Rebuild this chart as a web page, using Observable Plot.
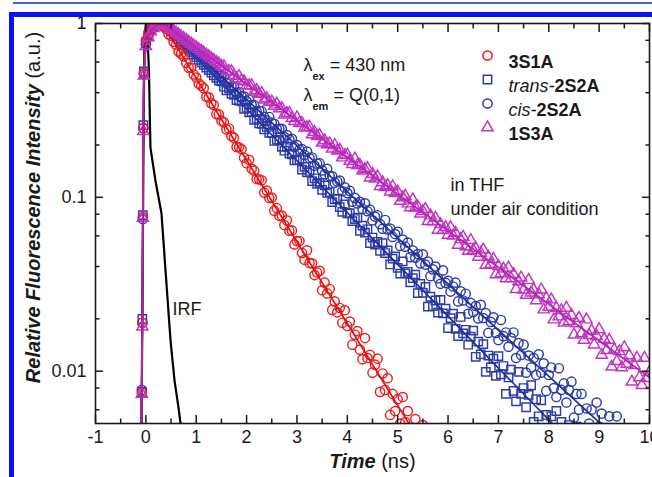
<!DOCTYPE html>
<html><head><meta charset="utf-8">
<script src="https://cdn.jsdelivr.net/npm/d3@7"></script>
<script src="https://cdn.jsdelivr.net/npm/@observablehq/plot@0.6"></script>
<style>
body{margin:0;background:#fff;}
#wrap{position:relative;width:652px;height:477px;overflow:hidden;background:#fff;}
#chart{position:absolute;left:0;top:0;}
.thin{position:absolute;left:13px;right:0;top:2px;height:2px;background:#3b6db3;}
.bframe{position:absolute;left:9px;top:12px;width:700px;height:520px;border-left:5px solid #0b12f2;border-top:5px solid #0b12f2;pointer-events:none;}
</style></head><body>
<div id="wrap"><div id="chart"></div><div class="thin"></div><div class="bframe"></div></div>
<script>
// ---- data ----
const time = [0,0.05,0.1,0.15,0.2,0.25,0.3,0.35,0.4,0.45,0.5,0.55,0.6,0.65,0.7,0.75,0.8,0.85,0.9,0.95,1,1.05,1.1,1.15,1.2,1.25,1.3,1.35,1.4,1.45,1.5,1.55,1.6,1.65,1.7,1.75,1.8,1.85,1.9,1.95,2,2.05,2.1,2.15,2.2,2.25,2.3,2.35,2.4,2.45,2.5,2.55,2.6,2.65,2.7,2.75,2.8,2.85,2.9,2.95,3,3.05,3.1,3.15,3.2,3.25,3.3,3.35,3.4,3.45,3.5,3.55,3.6,3.65,3.7,3.75,3.8,3.85,3.9,3.95,4,4.05,4.1,4.15,4.2,4.25,4.3,4.35,4.4,4.45,4.5,4.55,4.6,4.65,4.7,4.75,4.8,4.85,4.9,4.95,5,5.05,5.1,5.15,5.2,5.25,5.3,5.35,5.4,5.45,5.5,5.55,5.6,5.65,5.7,5.75,5.8,5.85,5.9,5.95,6,6.05,6.1,6.15,6.2,6.25,6.3,6.35,6.4,6.45,6.5,6.55,6.6,6.65,6.7,6.75,6.8,6.85,6.9,6.95,7,7.05,7.1,7.15,7.2,7.25,7.3,7.35,7.4,7.45,7.5,7.55,7.6,7.65,7.7,7.75,7.8,7.85,7.9,7.95,8,8.05,8.1,8.15,8.2,8.25,8.3,8.35,8.4,8.45,8.5,8.55,8.6,8.65,8.7,8.75,8.8,8.85,8.9,8.95,9,9.05,9.1,9.15,9.2,9.25,9.3,9.35,9.4,9.45,9.5,9.55,9.6,9.65,9.7,9.75,9.8,9.85,9.9,9.95,10];
const riseTime = [-0.09,-0.08,-0.07,-0.06,-0.05,-0.04];

const seriesNames = ["3S1A","trans-2S2A","cis-2S2A","1S3A"];

const rise3S1A = [0.0045,0.0075,0.019,0.077,0.25,0.52];
const val3S1A = [0.80,0.88,0.94,0.97,0.99,0.99,0.98,0.955,
0.933,0.867,0.849,0.784,0.755,0.689,0.671,0.647,0.594,0.557,0.556,0.509,
0.489,0.451,0.438,0.424,0.379,0.376,0.347,0.340,0.301,0.300,
0.276,0.270,0.246,0.249,0.225,0.220,0.195,0.194,0.189,0.169,
0.157,0.1645,0.146,0.1424,0.1277,0.1269,0.1254,0.1064,0.1094,0.0990,
0.0997,0.0838,0.0866,0.0783,0.0786,0.0693,0.0737,0.0643,0.0645,0.0536,
0.0560,0.0561,0.0479,0.0437,0.0496,0.0419,0.0417,0.0357,0.0370,0.0378,
0.0292,0.0323,0.0280,0.0297,0.0225,0.0252,0.0218,0.0231,0.0190,0.0224,
0.0182,0.0193,0.0142,0.0162,0.0170,0.0133,0.0117,0.0155,0.0119,0.0124,
0.0098,0.0109,0.0118,0.0076,0.0097,0.0078,0.0091,0.0056,0.0074,0.0059,
0.0069,0.0050,0.0071,0.0051,0.0059,0.0034,0.0047,0.0053,0.0037,0.0031,0.0049];

const riseTrans = [0.0046,0.0076,0.020,0.079,0.26,0.53];
const valTrans = [0.77,0.86,0.92,0.96,0.98,0.995,1.0,0.99,
0.966,0.933,0.902,0.871,0.842,0.814,0.786,0.760,0.734,0.709,0.686,0.662,
0.640,0.618,0.598,0.578,0.558,0.539,0.521,0.503,0.487,0.470,
0.464,0.433,0.413,0.424,0.394,0.388,0.363,0.360,0.357,0.323,
0.327,0.308,0.309,0.279,0.283,0.266,0.265,0.246,0.254,0.235,
0.234,0.211,0.214,0.213,0.1954,0.1855,0.1959,0.1786,0.1769,0.1630,
0.1641,0.1645,0.1444,0.1498,0.1392,0.1418,0.1239,0.1287,0.1196,0.1211,
0.1105,0.1172,0.1060,0.1073,0.0938,0.0975,0.0983,0.0878,0.0826,0.0911,
0.0809,0.0810,0.0730,0.0750,0.0764,0.0641,0.0688,0.0627,0.0655,0.0545,
0.0587,0.0535,0.0555,0.0492,0.0545,0.0478,0.0495,0.0411,0.0444,0.0457,
0.0393,0.0364,0.0428,0.0365,0.0373,0.0324,0.0343,0.0359,0.0281,0.0318,
0.0282,0.0305,0.0235,0.0268,0.0237,0.0255,0.0217,0.0257,0.0215,0.0229,
0.0177,0.0202,0.0214,0.0175,0.0159,0.0205,0.0165,0.0173,0.0142,0.0158,
0.0171,0.0121,0.0148,0.0125,0.0143,0.0099,0.0123,0.0105,0.0118,0.0094,
0.0122,0.0096,0.0107,0.0074,0.0092,0.0102,0.0077,0.0067,0.0099,0.0074,
0.0080,0.0062,0.0073,0.0083,0.0051,0.0069,0.0055,0.0068,0.0039,0.0056,
0.0046,0.0055,0.0040,0.0059,0.0043,0.0051,0.0030,0.0041,0.0049,0.0033,
0.0028,0.0048];

const riseCis = [0.0047,0.0078,0.019,0.075,0.25,0.51];
const valCis = [0.76,0.855,0.92,0.96,0.98,0.995,1.0,0.99,
0.970,0.941,0.912,0.885,0.859,0.833,0.808,0.784,0.760,0.737,0.715,0.694,
0.673,0.653,0.633,0.614,0.595,0.577,0.560,0.543,0.527,0.511,
0.499,0.495,0.454,0.458,0.435,0.435,0.399,0.402,0.381,0.381,
0.357,0.365,0.341,0.339,0.311,0.315,0.312,0.290,0.277,0.290,
0.268,0.265,0.247,0.248,0.248,0.222,0.228,0.215,0.217,0.195,
0.1998,0.1880,0.1893,0.1753,0.1833,0.1685,0.1696,0.1520,0.1561,0.1567,
0.1429,0.1357,0.1459,0.1324,0.1322,0.1213,0.1234,0.1248,0.1085,0.1141,
0.1058,0.1089,0.0943,0.0993,0.0922,0.0943,0.0858,0.0924,0.0832,0.0849,
0.0736,0.0775,0.0789,0.0701,0.0659,0.0741,0.0654,0.0661,0.0592,0.0615,
0.0633,0.0525,0.0572,0.0520,0.0549,0.0453,0.0495,0.0450,0.0472,0.0417,
0.0470,0.0410,0.0427,0.0352,0.0385,0.0400,0.0342,0.0318,0.0380,0.0322,
0.0331,0.0287,0.0307,0.0323,0.0252,0.0288,0.0255,0.0279,0.0214,0.0247,
0.0219,0.0237,0.0201,0.0241,0.0202,0.0216,0.0166,0.0192,0.0204,0.0166,
0.0151,0.0197,0.0159,0.0167,0.0138,0.0155,0.0167,0.0119,0.0145,0.0124,
0.0142,0.0098,0.0123,0.0105,0.0119,0.0095,0.0125,0.0098,0.0111,0.0077,
0.0095,0.0105,0.0080,0.0071,0.0104,0.0078,0.0085,0.0066,0.0078,0.0087,
0.0054,0.0074,0.0060,0.0074,0.0043,0.0061,0.0050,0.0060,0.0044,0.0066,
0.0048,0.0057,0.0034,0.0047,0.0055,0.0038,0.0032,0.0055];

const rise1S3A = [0.0045,0.0074,0.018,0.076,0.24,0.50];
const val1S3A = [0.74,0.83,0.90,0.94,0.97,0.99,1.0,0.995,
0.976,0.953,0.930,0.907,0.886,0.865,0.844,0.824,0.804,0.785,0.765,0.747,
0.729,0.712,0.695,0.678,0.662,0.646,0.630,0.615,0.600,0.586,
0.569,0.566,0.530,0.533,0.530,0.500,0.483,0.498,0.469,0.464,
0.440,0.440,0.440,0.405,0.413,0.393,0.397,0.364,0.371,0.354,
0.355,0.335,0.345,0.324,0.325,0.299,0.305,0.305,0.285,0.274,
0.288,0.268,0.267,0.251,0.2527,0.2539,0.2297,0.2372,0.2244,0.2282,
0.2060,0.2126,0.2014,0.2039,0.1902,0.1995,0.1852,0.1872,0.1693,0.1745,
0.1759,0.1620,0.1551,0.1668,0.1528,0.1532,0.1421,0.1449,0.1471,0.1297,
0.1364,0.1277,0.1316,0.1159,0.1218,0.1143,0.1172,0.1078,0.1155,0.1055,
0.1077,0.0952,0.0999,0.1018,0.0920,0.0875,0.0971,0.0872,0.0882,0.0804,
0.0832,0.0854,0.0729,0.0785,0.0727,0.0761,0.0649,0.0699,0.0647,0.0673,
0.0608,0.0672,0.0601,0.0623,0.0532,0.0573,0.0591,0.0521,0.0491,0.0567,
0.0497,0.0509,0.0454,0.0478,0.0499,0.0408,0.0455,0.0413,0.0442,0.0360,
0.0401,0.0365,0.0388,0.0341,0.0393,0.0342,0.0361,0.0296,0.0328,0.0345,
0.0294,0.0274,0.0334,0.0283,0.0294,0.0255,0.0276,0.0294,0.0226,0.0263,
0.0234,0.0258,0.0198,0.0231,0.0206,0.0224,0.0190,0.0231,0.0194,0.0210,
0.0162,0.0188,0.0202,0.0165,0.0151,0.0198,0.0161,0.0171,0.0142,0.0159,
0.0174,0.0124,0.0153,0.0132,0.0151,0.0106,0.0133,0.0114,0.0130,0.0105,
0.0137,0.0110,0.0123,0.0087,0.0108,0.0119,0.0092,0.0083,0.0119,0.0091,
0.0099];

// fitted decay curves
const fitTime3S1A = [-0.09,-0.07,-0.06,-0.05,-0.04,0,0.1,0.2,0.3,0.4,5.5];
const fitVal3S1A = [0.0045,0.019,0.077,0.25,0.52,0.80,0.94,0.99,0.98,0.927,0.0037];
const fitTimeTrans = [-0.09,-0.07,-0.06,-0.05,-0.04,0,0.1,0.2,0.3,0.4,8.55];
const fitValTrans = [0.0046,0.020,0.079,0.26,0.53,0.77,0.92,0.98,1.0,0.966,0.0036];
const fitTimeCis = [-0.09,-0.07,-0.06,-0.05,-0.04,0,0.1,0.2,0.3,0.4,9.35];
const fitValCis = [0.0047,0.019,0.075,0.25,0.51,0.76,0.92,0.98,1.0,0.97,0.0041];
const fitTime1S3A = [-0.09,-0.07,-0.06,-0.05,-0.04,0,0.1,0.2,0.3,0.4,10];
const fitVal1S3A = [0.0045,0.018,0.076,0.24,0.50,0.74,0.90,0.97,1.0,0.976,0.0092];

// instrument response function
const irfTime = [-0.1,-0.087,-0.067,-0.048,-0.028,0,0.032,0.061,0.091,0.19,0.31,0.39,0.49,0.57,0.647,0.71];
const irfVal = [0.004,0.005,0.025,0.186,0.8,1.0,0.85,0.54,0.193,0.125,0.081,0.038,0.015,0.0088,0.0062,0.0045];

const xMajor = [-1,0,1,2,3,4,5,6,7,8,9,10];
const xMinor = [-0.5,0.5,1.5,2.5,3.5,4.5,5.5,6.5,7.5,8.5,9.5];
const yMajor = [1,0.1,0.01];
const yMinor = [0.8,0.6,0.4,0.2,0.08,0.06,0.04,0.02,0.008,0.006];

// ---- build ----
const rows = (ts, vs) => ts.slice(0, vs.length).map((t, i) => ({t, v: vs[i]}));
const points = (rt, rv, vs) => rows(rt, rv).concat(rows(time, vs));

const colors = ["#f01c1c", "#2d3ca8", "#2d3ca8", "#c233c2"];
const lineColors = ["#e01010", "#1f2f9c", "#1f2f9c", "#b424b4"];
const symbols = ["circle", "square", "circle", "triangle"];
const radii = [4.6, 4.7, 4.6, 4.2];
const data = [
  points(riseTime, rise3S1A, val3S1A),
  points(riseTime, riseTrans, valTrans),
  points(riseTime, riseCis, valCis),
  points(riseTime, rise1S3A, val1S3A)
];
const fits = [
  rows(fitTime3S1A, fitVal3S1A),
  rows(fitTimeTrans, fitValTrans),
  rows(fitTimeCis, fitValCis),
  rows(fitTime1S3A, fitVal1S3A)
];
const irf = rows(irfTime, irfVal);

const F = "'Liberation Sans', Arial, Helvetica, sans-serif";
const ink = "#1a1a1a";
const order = [1, 2, 0, 3];
const seriesMarks = [];
for (const k of order) {
  seriesMarks.push(Plot.dot(data[k], {x: "t", y: "v", symbol: symbols[k], r: radii[k], stroke: colors[k], fill: "none", strokeWidth: 1.45, clip: true}));
  seriesMarks.push(Plot.line(fits[k], {x: "t", y: "v", stroke: lineColors[k], strokeWidth: 1.7, clip: true}));
}
const legendMarks = [];
seriesNames.forEach((name, i) => {
  legendMarks.push(Plot.dot([name], {frameAnchor: "top-left", dx: 392, dy: 32 + 24 * i, symbol: symbols[i], r: radii[i], stroke: colors[i], fill: "none", strokeWidth: 1.5}));
  legendMarks.push(Plot.text([name], {frameAnchor: "top-left", dx: 413, dy: 32 + 24 * i, text: d => d, textAnchor: "start", fontSize: 18, fill: ink}));
});

const tickOpts = {stroke: ink, strokeWidth: 1.5, fill: "none", label: null};
const plot = Plot.plot({
  width: 652, height: 477,
  marginLeft: 95, marginRight: 3, marginTop: 23, marginBottom: 54,
  style: {fontFamily: F, fontSize: "18px", color: ink, background: "transparent"},
  x: {domain: [-1, 10], axis: null},
  y: {type: "log", domain: [0.005, 1], axis: null},
  marks: [
    Plot.line(irf, {x: "t", y: "v", stroke: "#000", strokeWidth: 2.2, clip: true}),
    ...seriesMarks,
    Plot.frame({stroke: ink, strokeWidth: 1.6}),
    Plot.axisX(xMajor, {anchor: "bottom", tickSize: -8, ...tickOpts}),
    Plot.axisX(xMinor, {anchor: "bottom", tickSize: -4.5, ...tickOpts}),
    Plot.axisX(xMajor, {anchor: "top", tickSize: -8, ...tickOpts}),
    Plot.axisX(xMinor, {anchor: "top", tickSize: -4.5, ...tickOpts}),
    Plot.axisY(yMajor, {anchor: "left", tickSize: -8, ...tickOpts}),
    Plot.axisY(yMinor, {anchor: "left", tickSize: -4.5, ...tickOpts}),
    Plot.axisY(yMajor, {anchor: "right", tickSize: -8, ...tickOpts}),
    Plot.axisY(yMinor, {anchor: "right", tickSize: -4.5, ...tickOpts}),
    Plot.axisX(xMajor, {anchor: "bottom", tickSize: 0, tickPadding: 7, tickFormat: d => String(d), label: null, fontSize: 18, fill: ink}),
    Plot.axisY(yMajor, {anchor: "left", tickSize: 0, tickPadding: 9, tickFormat: d => String(d), label: null, fontSize: 18, fill: ink}),
    Plot.text(["Time (ns)"], {frameAnchor: "bottom", dy: 44, text: d => d, fontSize: 20, fill: ink}),
    Plot.text(["Relative Fluorescence Intensity (a.u.)"], {frameAnchor: "left", dx: -62, dy: -16, rotate: -90, textAnchor: "middle", text: d => d, fontSize: 20, fill: ink}),
    Plot.text(["λex = 430 nm"], {frameAnchor: "top-left", dx: 208, dy: 35, text: d => d, textAnchor: "start", fontSize: 18, fill: ink}),
    Plot.text(["λem = Q(0,1)"], {frameAnchor: "top-left", dx: 208, dy: 65, text: d => d, textAnchor: "start", fontSize: 18, fill: ink}),
    Plot.text(["in THF"], {frameAnchor: "top-left", dx: 355, dy: 155, text: d => d, textAnchor: "start", fontSize: 18, fill: ink}),
    Plot.text(["under air condition"], {frameAnchor: "top-left", dx: 355, dy: 179, text: d => d, textAnchor: "start", fontSize: 18, fill: ink}),
    Plot.text(["IRF"], {frameAnchor: "top-left", dx: 77, dy: 279, text: d => d, textAnchor: "start", fontSize: 18, fill: ink}),
    ...legendMarks
  ]
});

// mixed styles (bold / italic / subscript) inside single text labels
const rich = {
  "Time (ns)": [["Time", "bi"], [" (ns)", ""]],
  "Relative Fluorescence Intensity (a.u.)": [["Relative Fluorescence Intensity", "bi"], [" (a.u.)", ""]],
  "3S1A": [["3S1A", "b"]],
  "trans-2S2A": [["trans-", "i"], ["2S2A", "b"]],
  "cis-2S2A": [["cis-", "i"], ["2S2A", "b"]],
  "1S3A": [["1S3A", "b"]],
  "λex = 430 nm": [["λ", ""], ["ex", "sub"], [" = 430 nm", "up"]],
  "λem = Q(0,1)": [["λ", ""], ["em", "sub"], [" = Q(0,1)", "up"]]
};
d3.select(plot).selectAll("text").each(function () {
  const parts = rich[this.textContent];
  if (!parts) return;
  const el = d3.select(this);
  el.text(null);
  for (const [s, f] of parts) {
    const ts = el.append("tspan").text(s);
    if (f.includes("b")) ts.attr("font-weight", "bold");
    if (f.includes("i")) ts.attr("font-style", "italic");
    if (f === "sub") ts.attr("font-size", 11).attr("dy", 9);
    if (f === "up") ts.attr("dy", -9);
  }
});
document.getElementById("chart").appendChild(plot);
</script>
</body></html>
